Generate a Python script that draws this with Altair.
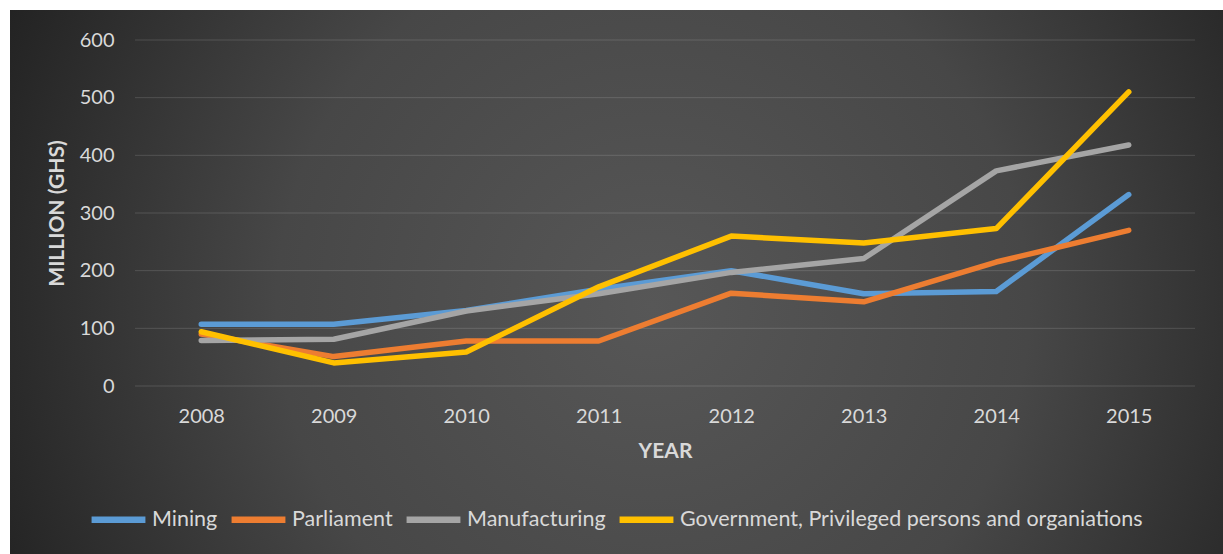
import altair as alt
import pandas as pd

years = ["2008", "2009", "2010", "2011", "2012", "2013", "2014", "2015"]
series_names = ["Mining", "Parliament", "Manufacturing",
                "Government, Privileged persons and organiations"]
mining = [107, 107, 131, 168, 200, 160, 164, 332]
parliament = [90, 51, 78, 78, 161, 146, 215, 270]
manufacturing = [79, 81, 130, 160, 197, 221, 373, 418]
government = [94, 40, 59, 172, 260, 248, 273, 510]
colors = ["#5B9BD5", "#ED7D31", "#A5A5A5", "#FFC000"]
y_ticks = [0, 100, 200, 300, 400, 500, 600]

rows = []
for order, (name, vals) in enumerate(zip(series_names, [mining, parliament, manufacturing, government])):
    for yr, v in zip(years, vals):
        rows.append({"Year": yr, "Value": v, "Series": name, "order": order})
df = pd.DataFrame(rows)

W, H = 1060, 346
FONT = "Lato"
LABEL = "#D9D9D9"

bg = alt.Chart(alt.Data(values=[{}])).mark_rect(
    fill={
        "gradient": "radial",
        "x1": 0.53, "y1": 0.52, "r1": 0,
        "x2": 0.53, "y2": 0.52, "r2": 0.62,
        "stops": [
            {"offset": 0, "color": "#575757"},
            {"offset": 0.5, "color": "#474747"},
            {"offset": 1, "color": "#1E1E1E"},
        ],
    }
).encode(
    x=alt.value(-125), x2=alt.value(1088),
    y=alt.value(-30), y2=alt.value(514),
)

grid = alt.Chart(pd.DataFrame({"v": y_ticks})).mark_rule(
    color="#FFFFFF", opacity=0.14, strokeWidth=1
).encode(
    y=alt.Y("v:Q", scale=alt.Scale(domain=[0, 600])),
    x=alt.value(0), x2=alt.value(W),
)

lines = alt.Chart(df).mark_line(
    strokeWidth=5.5, strokeCap="round", strokeJoin="round"
).encode(
    x=alt.X("Year:O", scale=alt.Scale(type="point", padding=0.5),
            axis=alt.Axis(title="YEAR", labelAngle=0, domain=False, ticks=False,
                          grid=False, labelPadding=20, titlePadding=14, zindex=1)),
    y=alt.Y("Value:Q", scale=alt.Scale(domain=[0, 600]),
            axis=alt.Axis(title="MILLION (GHS)", values=y_ticks, domain=False,
                          ticks=False, grid=False, labelPadding=21, titlePadding=12,
                          zindex=1)),
    color=alt.Color("Series:N",
                    scale=alt.Scale(domain=series_names, range=colors),
                    legend=alt.Legend(title=None, orient="none", direction="horizontal",
                                      legendX=-47, legendY=449,
                                      symbolType="stroke", symbolSize=2900,
                                      symbolStrokeWidth=6.5, labelOffset=3,
                                      columnPadding=0, labelLimit=0, zindex=1)),
    order=alt.Order("order:Q"),
)

chart = alt.layer(bg, grid, lines).properties(
    width=W, height=H,
    autosize=alt.AutoSizeParams(type="none"),
    padding={"left": 135, "top": 40, "right": 28, "bottom": 168},
    background="#FFFFFF",
).configure_view(stroke=None).configure_axis(
    labelFont=FONT, labelFontSize=20, labelColor=LABEL,
    titleFont=FONT, titleFontSize=21, titleFontWeight="bold", titleColor=LABEL,
).configure_legend(
    labelFont=FONT, labelFontSize=21.5, labelColor=LABEL,
)

chart.save("out.html", embed_options={"renderer": "svg", "actions": False})
